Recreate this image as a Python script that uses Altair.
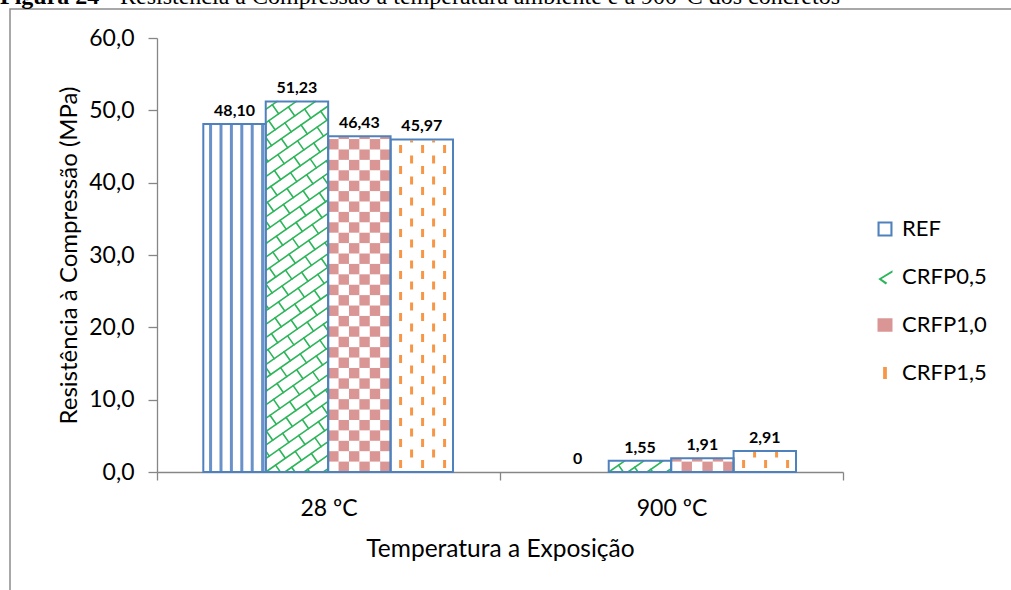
import math
import altair as alt
import pandas as pd

# ---------------- data ----------------
categories = ["28 ºC", "900 ºC"]
series = ["REF", "CRFP0,5", "CRFP1,0", "CRFP1,5"]
values_28 = [48.10, 51.23, 46.43, 45.97]
values_900 = [0.0, 1.55, 1.91, 2.91]
y_ticks = [0, 10, 20, 30, 40, 50, 60]
caption_bold = "Figura 24 -"
caption_rest = "Resistência à Compressão à temperatura ambiente e a 900°C dos concretos"
y_title = "Resistência à Compressão (MPa)"
x_title = "Temperatura a Exposição"

# ---------------- layout / style ----------------
W, H = 686, 434
X_MAX, Y_MAX = 2, 60
PXX = W / X_MAX
PXY = H / Y_MAX
GROUP_PAD = 0.135
BAR_W = 0.182
FONT = "Lato"
BLUE = "#4F81BD"
GREEN = "#2DB55A"
PINK = "#D99694"
ORANGE = "#F79646"
AXIS_GRAY = "#868686"


def fmt(v):
    return "0" if v == 0 else f"{v:.2f}".replace(".", ",")


rows = []
for g, vals in enumerate([values_28, values_900]):
    for i, (s, v) in enumerate(zip(series, vals)):
        x0 = g + GROUP_PAD + i * BAR_W
        rows.append(dict(cat=categories[g], series=s, v=v, x0=x0, x1=x0 + BAR_W,
                         xc=x0 + BAR_W / 2, label=fmt(v)))
bars = pd.DataFrame(rows)
bars_pos = bars[bars.v > 0]

bw_px = BAR_W * PXX

# ---- REF: vertical stripes
stripes = []
for _, b in bars[(bars.series == "REF") & (bars.v > 0)].iterrows():
    pitch = bw_px / 6
    for k in range(6):
        off = (k + 0.7) * pitch
        if off < bw_px - 1:
            stripes.append(dict(x=b.x0 + off / PXX, y=0.0, y2=b.v))
stripes = pd.DataFrame(stripes)

# ---- CRFP1,0: checkerboard
cells = []
for _, b in bars[(bars.series == "CRFP1,0") & (bars.v > 0)].iterrows():
    c = bw_px / 6
    h = b.v * PXY
    nr = int(math.ceil(h / c))
    for r in range(nr):
        for col in range(6):
            if (r + col) % 2 == 1:
                cells.append(dict(x=b.x0 + col * c / PXX, x2=b.x0 + (col + 1) * c / PXX,
                                  y=r * c / PXY, y2=min((r + 1) * c, h) / PXY))
cells = pd.DataFrame(cells)

# ---- CRFP1,5: staggered orange dashes
dashes = []
for _, b in bars[(bars.series == "CRFP1,5") & (bars.v > 0)].iterrows():
    h = b.v * PXY
    for k in range(5):
        xo = 10 + 11 * k
        if xo > bw_px - 2:
            continue
        phase = 4 + (10.5 if k % 2 else 0)
        y = phase - 21
        while y < h:
            a, e = max(y, 1), min(y + 8, h - 1)
            if e - a > 1.5:
                dashes.append(dict(x=b.x0 + xo / PXX, y=a / PXY, y2=e / PXY))
            y += 21
dashes = pd.DataFrame(dashes)


# ---- CRFP0,5: green diagonal brick lattice
def clip(p0, p1, w, h):
    x0, y0 = p0
    dx, dy = p1[0] - x0, p1[1] - y0
    t0, t1 = 0.0, 1.0
    for p, q in ((-dx, x0), (dx, w - x0), (-dy, y0), (dy, h - y0)):
        if p == 0:
            if q < 0:
                return None
        else:
            t = q / p
            if p < 0:
                t0 = max(t0, t)
            else:
                t1 = min(t1, t)
    if t0 >= t1:
        return None
    return (x0 + t0 * dx, y0 + t0 * dy), (x0 + t1 * dx, y0 + t1 * dy)


th = math.radians(35)
d = (math.cos(th), math.sin(th))
n = (-math.sin(th), math.cos(th))
S, L = 11.0, 24.0
segs = []
for _, b in bars[(bars.series == "CRFP0,5") & (bars.v > 0)].iterrows():
    w, h = bw_px, b.v * PXY
    vmin, vmax = -w * math.sin(th), h * math.cos(th)
    umax = w * math.cos(th) + h * math.sin(th)
    kmin, kmax = int(math.floor(vmin / S)) - 1, int(math.ceil(vmax / S)) + 1

    def pt(u, v):
        return (u * d[0] + v * n[0], u * d[1] + v * n[1])

    cand = []
    for k in range(kmin, kmax + 1):
        cand.append((pt(-5, k * S), pt(umax + 5, k * S)))
        m = -1
        while m * L < umax + L:
            u = m * L + (L / 2 if k % 2 else 0)
            cand.append((pt(u, k * S), pt(u, (k + 1) * S)))
            m += 1
    for p0, p1 in cand:
        c = clip(p0, p1, w, h)
        if c:
            (ax, ay), (ex, ey) = c
            if math.hypot(ex - ax, ey - ay) > 0.8:
                segs.append(dict(x=b.x0 + ax / PXX, x2=b.x0 + ex / PXX,
                                 y=ay / PXY, y2=ey / PXY))
segs = pd.DataFrame(segs)

# ---------------- scales / axes ----------------
xs = alt.Scale(domain=[0, X_MAX], nice=False, zero=False)
ys = alt.Scale(domain=[0, Y_MAX], nice=False)

label_expr = (f"datum.value == 0.5 ? '{categories[0]}' : "
              f"datum.value == 1.5 ? '{categories[1]}' : ''")
x_axis = alt.Axis(values=[0, 0.5, 1, 1.5, 2], labelExpr=label_expr, title=x_title,
                  tickSize=8, tickWidth=1.3, domainWidth=1.3,
                  tickOpacity={"condition": {"test": "datum.value == 0.5 || datum.value == 1.5",
                                             "value": 0}, "value": 1},
                  labelPadding=17, labelFontSize=23, titleFontSize=24.5, titlePadding=17,
                  labelOverlap=False, labelFlush=False, grid=False)
y_axis = alt.Axis(values=y_ticks, labelExpr="replace(format(datum.value, '.1f'), '.', ',')",
                  title=y_title, tickSize=9, tickWidth=1.3, domainWidth=1.3,
                  labelPadding=14, labelFontSize=23, titleFontSize=24, titlePadding=7,
                  grid=False)


def X(field):
    return alt.X(field, scale=xs, axis=x_axis)


def Y(field):
    return alt.Y(field, scale=ys, axis=y_axis)


# legend: real legend from hidden points (hidden beneath the first white bar)
leg_df = pd.DataFrame({"series": series})
shapes = ["M-1,-1 L1,-1 L1,1 L-1,1 Z M-0.72,-0.72 L-0.72,0.72 L0.72,0.72 L0.72,-0.72 Z",
          "M1,-0.9 L-0.9,0.25 L0.1,1 L0.3,0.75 L-0.45,0.25 L1,-0.6 Z",
          "M-1,-0.9 L1,-0.9 L1,0.9 L-1,0.9 Z",
          "M-0.25,-0.8 L0.25,-0.8 L0.25,0.8 L-0.25,0.8 Z"]
fills = [BLUE, GREEN, PINK, ORANGE]
leg = alt.Legend(title=None, orient="none", legendX=717, legendY=180, labelFont=FONT,
                 labelFontSize=22, labelColor="black", rowPadding=26, symbolSize=225,
                 symbolStrokeWidth=0, labelOffset=6, symbolOpacity=1)
legend_layer = alt.Chart(leg_df).mark_point(filled=True, size=20, opacity=1).encode(
    x=alt.value(77), y=alt.value(300),
    fill=alt.Fill("series:N", scale=alt.Scale(domain=series, range=fills), legend=leg),
    shape=alt.Shape("series:N", scale=alt.Scale(domain=series, range=shapes), legend=leg),
)

base_bar = alt.Chart(bars_pos).mark_rect(fill="white", strokeWidth=0).encode(
    x=X("x0:Q"), x2="x1:Q", y=Y("v:Q"), y2=alt.datum(0),
)

stripe_layer = alt.Chart(stripes).mark_rule(color="#6892C9", strokeWidth=3).encode(
    x=X("x:Q"), y=Y("y:Q"), y2="y2:Q",
)

cell_layer = alt.Chart(cells).mark_rect(color=PINK).encode(
    x=X("x:Q"), x2="x2:Q", y=Y("y:Q"), y2="y2:Q",
)

dash_layer = alt.Chart(dashes).mark_rule(color=ORANGE, strokeWidth=3).encode(
    x=X("x:Q"), y=Y("y:Q"), y2="y2:Q",
)

seg_layer = alt.Chart(segs).mark_rule(color=GREEN, strokeWidth=1.6, strokeCap="round").encode(
    x=X("x:Q"), x2="x2:Q", y=Y("y:Q"), y2="y2:Q",
)

outline = alt.Chart(bars_pos).mark_rect(fill="white", fillOpacity=0, stroke=BLUE,
                                        strokeWidth=2).encode(
    x=X("x0:Q"), x2="x1:Q", y=Y("v:Q"), y2=alt.datum(0),
)

labels = alt.Chart(bars).mark_text(font=FONT, fontSize=16, fontWeight="bold", color="black",
                                   baseline="alphabetic", dy=-8).encode(
    x=X("xc:Q"), y=Y("v:Q"), text="label:N",
)

# frame and caption (decoration in pixel space)
one = pd.DataFrame({"a": [0]})
frame = alt.Chart(one).mark_rect(fill="white", fillOpacity=0, stroke="#8C8C8C",
                                 strokeWidth=1.5).encode(
    x=alt.value(-147), x2=alt.value(860), y=alt.value(-29), y2=alt.value(570))
cap1 = alt.Chart(one).mark_text(text=caption_bold, font="Liberation Serif", fontSize=24,
                                fontWeight="bold", align="left", baseline="alphabetic",
                                color="black").encode(x=alt.value(-157), y=alt.value(-34))
cap2 = alt.Chart(one).mark_text(text=caption_rest, font="Liberation Serif", fontSize=24,
                                align="left", baseline="alphabetic",
                                color="black").encode(x=alt.value(-37), y=alt.value(-34))

chart = alt.layer(
    frame, legend_layer, base_bar, stripe_layer, cell_layer, dash_layer, seg_layer, outline,
    labels, cap1, cap2
).properties(
    width=W, height=H,
    autosize=alt.AutoSizeParams(type="none"),
    padding={"left": 157, "top": 38, "right": 168, "bottom": 118},
    background="white",
).configure_view(stroke=None).configure_axis(
    domainColor=AXIS_GRAY, tickColor=AXIS_GRAY, labelColor="black", titleColor="black",
    labelFont=FONT, titleFont=FONT, titleFontWeight="normal"
)

chart.save("out.html", embed_options={"renderer": "svg", "actions": False})
